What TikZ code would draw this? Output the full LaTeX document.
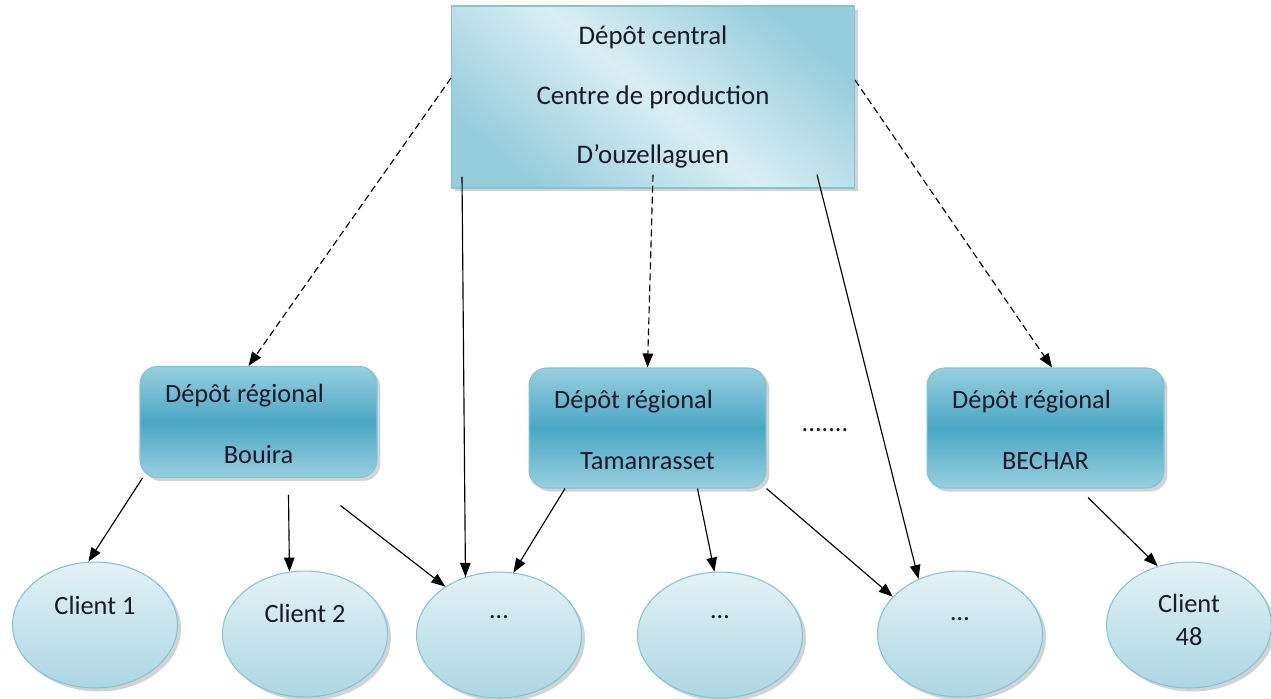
\documentclass[tikz,border=0pt]{standalone}
\usepackage{fontspec}
\setmainfont{Carlito}
\usetikzlibrary{arrows.meta,shapes.geometric,shadows}
\definecolor{cenlight}{RGB}{218,238,244}
\definecolor{cendark}{RGB}{150,205,221}
\definecolor{reglight}{RGB}{152,207,222}
\definecolor{regdark}{RGB}{74,167,197}
\definecolor{clilight}{RGB}{228,242,247}
\definecolor{clidark}{RGB}{172,214,227}
\definecolor{rim}{RGB}{130,195,213}
\definecolor{ink}{RGB}{25,25,40}
\begin{document}
\begin{tikzpicture}[x=0.02cm, y=-0.02cm, font=\fontsize{15}{18}\selectfont, text=ink, line join=round, >={Triangle[length=0.28cm,width=0.21cm]},
	shade/.style={drop shadow={shadow xshift=0.07cm, shadow yshift=-0.07cm, opacity=0.35}},
	central/.style={shade, draw=rim, line width=0.6pt, minimum width=8.06cm, minimum height=3.64cm, align=center, font=\fontsize{15.3}{34}\selectfont, top color=cendark, bottom color=cendark, middle color=cenlight, shading angle=-40},
	regional/.style={shade, draw=rim, line width=0.6pt, rounded corners=0.35cm, minimum width=4.74cm, top color=reglight, bottom color=reglight, middle color=regdark},
	client/.style={shade, ellipse, draw=rim, line width=0.6pt, inner sep=0pt, minimum width=3.3cm, minimum height=2.52cm, top color=clilight, bottom color=clidark},
	every label/.style={align=center, font=\fontsize{15}{19}\selectfont},
	link/.style={->, line width=0.65pt},
	flow/.style={->, line width=0.65pt, dash pattern=on 0.14cm off 0.08cm}]
	\useasboundingbox (0,0) rectangle (1271,698);
	\node[central] (central) at (653,97) {Dépôt central\\Centre de production\\D’ouzellaguen};
	\foreach \n/\x/\y/\h/\t in {bouira/258.5/422/2.22/Bouira, tama/647.5/428/2.4/Tamanrasset, bechar/1045.5/428/2.4/BECHAR}
	\node[regional, minimum height=\h cm, label={[xshift=-0.28cm,yshift=0.52cm]center:Dépôt régional}, label={[yshift=-0.66cm]center:\t}] (\n) at (\x,\y) {};
	\node (dots) at (825,430) {.......};
	\foreach \n/\x/\y in {c1/95/625, c2/305/634, e3/499/635, e4/720/635, e5/960/634, c48/1189/625}
	\node[client] (\n) at (\x,\y) {};
	\foreach \n/\s/\t in {c1/0.4/Client 1, c2/0.42/Client 2, e3/0.36/{\dots}, e4/0.36/{\dots}, e5/0.3/{\dots}, c48/0.1/{Client\\48}}
	\node[anchor=center, align=center, font=\fontsize{15}{19}\selectfont] at ([yshift=\s cm]\n.center) {\t};
	% central to the regions
	\draw[flow] ([yshift=0.38cm]central.west) -- ([xshift=-0.2cm]bouira.north);
	\draw[flow] ([yshift=0.28cm]central.south) -- (tama.north);
	\draw[flow] ([yshift=0.34cm]central.east) -- ([xshift=0.13cm]bechar.north);
	\draw[link] ([xshift=0.22cm,yshift=0.24cm]central.south west) -- (e3.120);
	\draw[link] ([xshift=-0.76cm,yshift=0.28cm]central.south east) -- (e5.127);
	% regions to the clients
	\draw[link] ([xshift=0.06cm]bouira.south west) -- (c1.96);
	\draw[link] ([xshift=0.6cm,yshift=-0.33cm]bouira.south) -- (c2.104);
	\draw[link] ([xshift=-0.74cm,yshift=-0.55cm]bouira.south east) -- (e3.138);
	\draw[link] ([xshift=0.73cm]tama.south west) -- (e3.77);
	\draw[link] ([xshift=1cm]tama.south) -- (e4.95);
	\draw[link] (tama.south east) -- (e5.151);
	\draw[link] ([xshift=0.85cm,yshift=-0.18cm]bechar.south) -- (c48.118);
\end{tikzpicture}
\end{document}
